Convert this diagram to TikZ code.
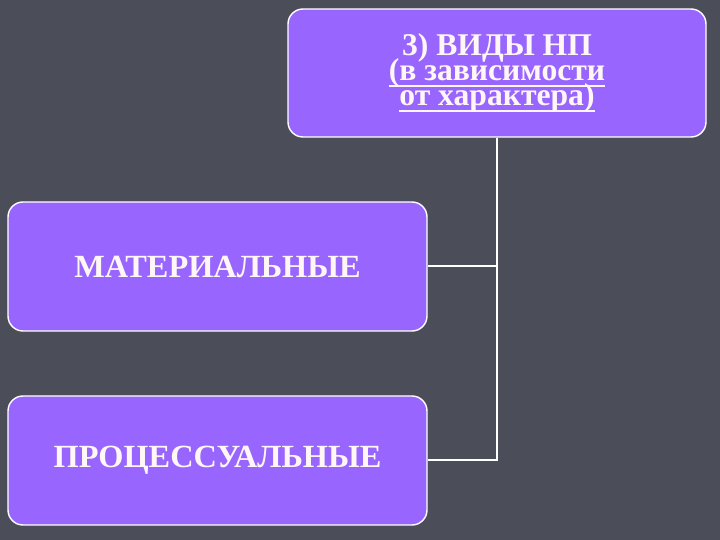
\documentclass[tikz,border=0pt]{standalone}
\usepackage{fontspec}
\setmainfont{Liberation Serif}
\definecolor{bgrey}{RGB}{75,78,88}
\definecolor{boxviolet}{RGB}{152,102,255}
\definecolor{txtwhite}{RGB}{255,246,246}
\newcommand{\tightlines}{\lineskiplimit=-20pt\relax}
\newcommand{\ulthick}[1]{\setbox0=\hbox{#1}\rlap{\rule[-4.3pt]{\wd0}{1.4pt}}\box0}
\tikzset{
  kindbox/.style={draw=white, line width=0.035cm, fill=boxviolet, rounded corners=0.375cm,
    text=txtwhite, font=\bfseries, align=center, inner sep=0pt},
  link/.style={draw=white, line width=0.05cm}
}
\begin{document}
\begin{tikzpicture}
            % Background of slide
            \fill [bgrey] (0,0) rectangle (18.000000,13.500000);%
            \useasboundingbox (0,0) rectangle (18.000000,13.500000);%

            % Drawing top box
            \node [kindbox, minimum width=10.45cm, minimum height=3.2cm,
              font=\bfseries\fontsize{22.5}{17.8}\selectfont\tightlines] (kinds) at (12.425000,11.675000)
              {3) ВИДЫ НП\\ \ulthick{(в зависимости}\\ \ulthick{от характера)}};%

            % Drawing box material
            \node [kindbox, minimum width=10.475cm, minimum height=3.225cm,
              font=\bfseries\fontsize{23}{25}\selectfont] (mater) at (5.437500,6.837500) {МАТЕРИАЛЬНЫЕ};%

            % Drawing box process
            \node [kindbox, minimum width=10.475cm, minimum height=3.225cm,
              font=\bfseries\fontsize{23}{25}\selectfont] (proc) at (5.437500,1.987500) {ПРОЦЕССУАЛЬНЫЕ};%

            % Drawing lines kinds -- boxes
            \draw [link] (kinds.south) |- (mater.east);%
            \draw [link] (kinds.south) |- (proc.east);%
\end{tikzpicture}
\end{document}
